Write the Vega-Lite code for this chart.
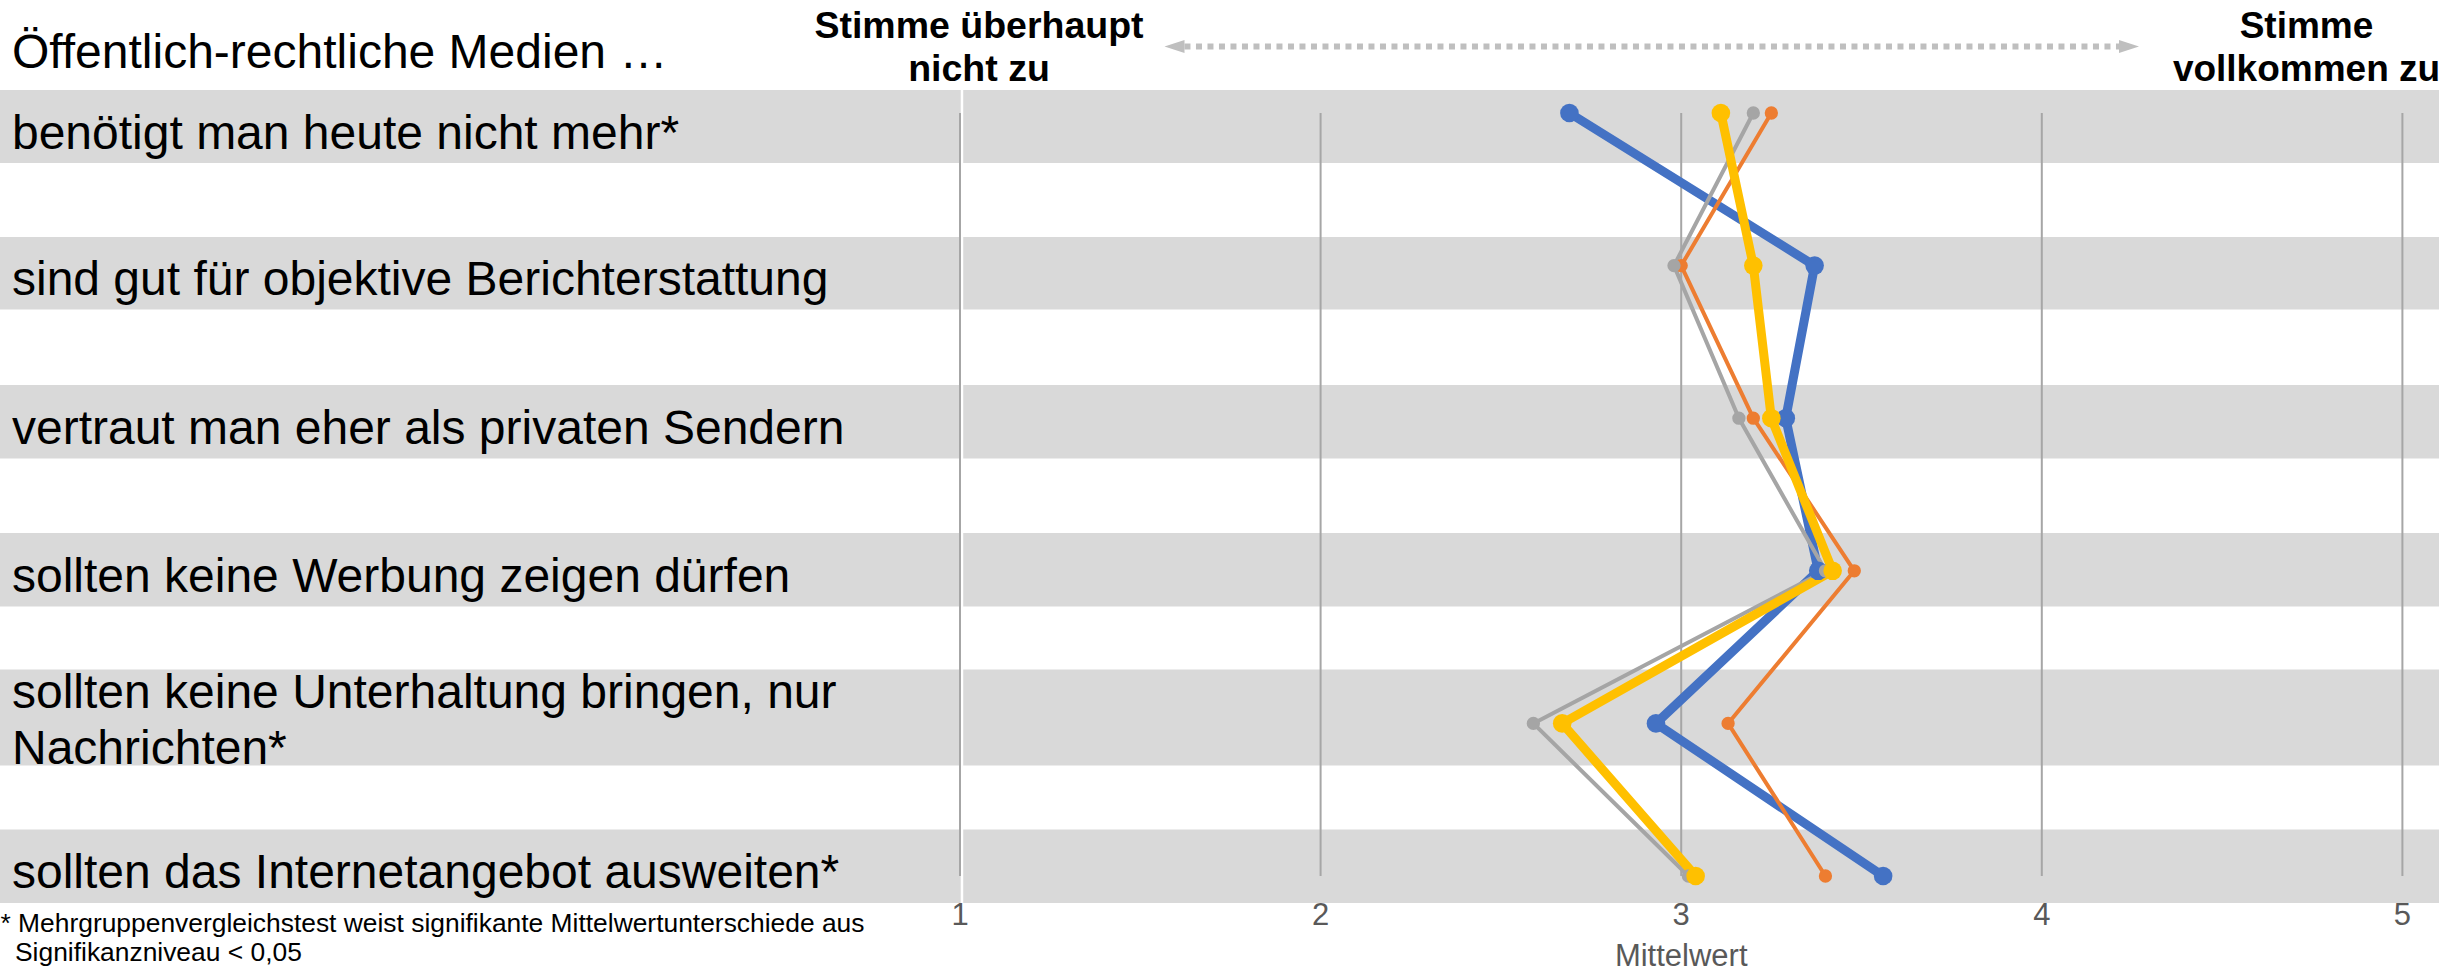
{
  "$schema": "https://vega.github.io/schema/vega-lite/v6.json",
  "width": 2463,
  "height": 903,
  "autosize": {"type": "none"},
  "padding": {"left": 0, "top": 0, "right": 0, "bottom": 69},
  "background": "white",
  "config": {"view": {"stroke": null}, "font": "Liberation Sans"},
  "datasets": {
    "items": [
      {"rank": 1, "label": "benötigt man heute nicht mehr*", "band_lo": 0.8493, "band_hi": 1.3277},
      {"rank": 2, "label": "sind gut für objektive Berichterstattung", "band_lo": 1.8126, "band_hi": 2.2877},
      {"rank": 3, "label": "vertraut man eher als privaten Sendern", "band_lo": 2.7824, "band_hi": 3.2641},
      {"rank": 4, "label": "sollten keine Werbung zeigen dürfen", "band_lo": 3.7523, "band_hi": 4.2339},
      {"rank": 5, "label": "sollten keine Unterhaltung bringen, nur\nNachrichten*", "band_lo": 4.6468, "band_hi": 5.2758},
      {"rank": 6, "label": "sollten das Internetangebot ausweiten*", "band_lo": 5.6953, "band_hi": 6.1769}
    ],
    "grid": [{"tick": 1}, {"tick": 2}, {"tick": 3}, {"tick": 4}, {"tick": 5}],
    "one": [{}],
    "series": [
      {"group": "Gruppe 1", "rank": 1, "value": 2.69},
      {"group": "Gruppe 1", "rank": 2, "value": 3.37},
      {"group": "Gruppe 1", "rank": 3, "value": 3.29},
      {"group": "Gruppe 1", "rank": 4, "value": 3.38},
      {"group": "Gruppe 1", "rank": 5, "value": 2.93},
      {"group": "Gruppe 1", "rank": 6, "value": 3.56},
      {"group": "Gruppe 2", "rank": 1, "value": 3.25},
      {"group": "Gruppe 2", "rank": 2, "value": 3.00},
      {"group": "Gruppe 2", "rank": 3, "value": 3.20},
      {"group": "Gruppe 2", "rank": 4, "value": 3.48},
      {"group": "Gruppe 2", "rank": 5, "value": 3.13},
      {"group": "Gruppe 2", "rank": 6, "value": 3.40},
      {"group": "Gruppe 3", "rank": 1, "value": 3.20},
      {"group": "Gruppe 3", "rank": 2, "value": 2.98},
      {"group": "Gruppe 3", "rank": 3, "value": 3.16},
      {"group": "Gruppe 3", "rank": 4, "value": 3.40},
      {"group": "Gruppe 3", "rank": 5, "value": 2.59},
      {"group": "Gruppe 3", "rank": 6, "value": 3.02},
      {"group": "Gruppe 4", "rank": 1, "value": 3.11},
      {"group": "Gruppe 4", "rank": 2, "value": 3.20},
      {"group": "Gruppe 4", "rank": 3, "value": 3.25},
      {"group": "Gruppe 4", "rank": 4, "value": 3.42},
      {"group": "Gruppe 4", "rank": 5, "value": 2.67},
      {"group": "Gruppe 4", "rank": 6, "value": 3.04}
    ]
  },
  "layer": [
    {
      "data": {"name": "items"},
      "mark": {"type": "rect", "color": "#D9D9D9"},
      "encoding": {
        "x": {"datum": -1.66223, "type": "quantitative",
              "scale": {"domain": [-1.66223, 5.16805], "nice": false, "zero": false}, "axis": null},
        "x2": {"datum": 5.1015},
        "y": {"field": "band_lo", "type": "quantitative",
              "scale": {"domain": [0.2595, 6.17693], "reverse": true, "nice": false, "zero": false}, "axis": null},
        "y2": {"field": "band_hi"}
      }
    },
    {
      "data": {"name": "one"},
      "mark": {"type": "rule", "color": "white", "strokeWidth": 2.5},
      "encoding": {
        "x": {"datum": 1.0055, "type": "quantitative", "axis": null},
        "y": {"datum": 0.8493, "type": "quantitative", "axis": null},
        "y2": {"datum": 6.17693}
      }
    },
    {
      "data": {"name": "grid"},
      "mark": {"type": "rule", "color": "#A6A6A6", "strokeWidth": 2},
      "encoding": {
        "x": {"field": "tick", "type": "quantitative", "axis": null},
        "y": {"datum": 1, "type": "quantitative", "axis": null},
        "y2": {"datum": 6}
      }
    },
    {
      "data": {"name": "grid"},
      "mark": {"type": "text", "align": "center", "baseline": "alphabetic", "fontSize": 31, "color": "#595959"},
      "encoding": {
        "x": {"field": "tick", "type": "quantitative", "axis": null},
        "y": {"datum": 6.3211, "type": "quantitative", "axis": null},
        "text": {"field": "tick", "type": "quantitative", "format": "d"}
      }
    },
    {
      "data": {"name": "series"},
      "mark": {"type": "line", "strokeJoin": "round", "strokeCap": "round"},
      "encoding": {
        "x": {"field": "value", "type": "quantitative", "axis": null},
        "y": {"field": "rank", "type": "quantitative", "axis": null},
        "order": {"field": "rank"},
        "color": {"field": "group", "type": "nominal",
                  "scale": {"domain": ["Gruppe 1", "Gruppe 2", "Gruppe 3", "Gruppe 4"],
                            "range": ["#4472C4", "#ED7D31", "#A5A5A5", "#FFC000"]}, "legend": null},
        "strokeWidth": {"field": "group", "type": "nominal",
                        "scale": {"type": "ordinal", "domain": ["Gruppe 1", "Gruppe 2", "Gruppe 3", "Gruppe 4"], "range": [9, 4, 4, 9]},
                        "legend": null}
      }
    },
    {
      "data": {"name": "series"},
      "mark": {"type": "circle", "opacity": 1},
      "encoding": {
        "x": {"field": "value", "type": "quantitative", "axis": null},
        "y": {"field": "rank", "type": "quantitative", "axis": null},
        "color": {"field": "group", "type": "nominal", "legend": null},
        "size": {"field": "group", "type": "nominal",
                 "scale": {"type": "ordinal", "domain": ["Gruppe 1", "Gruppe 2", "Gruppe 3", "Gruppe 4"], "range": [346, 177, 177, 346]},
                 "legend": null}
      }
    },
    {
      "data": {"name": "items"},
      "transform": [
        {"filter": "datum.rank != 5"},
        {"calculate": "(datum.band_lo + datum.band_hi) / 2", "as": "mid"}
      ],
      "mark": {"type": "text", "align": "left", "baseline": "middle", "dy": 8, "fontSize": 48, "color": "black"},
      "encoding": {
        "x": {"datum": -1.629, "type": "quantitative", "axis": null},
        "y": {"field": "mid", "type": "quantitative", "axis": null},
        "text": {"field": "label", "type": "nominal"}
      }
    },
    {
      "data": {"name": "items"},
      "transform": [
        {"filter": "datum.rank == 5"},
        {"calculate": "(datum.band_lo + datum.band_hi) / 2", "as": "mid"}
      ],
      "mark": {"type": "text", "align": "left", "baseline": "middle", "dy": -23.5, "fontSize": 48,
               "color": "black", "lineBreak": "\n", "lineHeight": 56},
      "encoding": {
        "x": {"datum": -1.629, "type": "quantitative", "axis": null},
        "y": {"field": "mid", "type": "quantitative", "axis": null},
        "text": {"field": "label", "type": "nominal"}
      }
    },
    {
      "data": {"name": "one"},
      "mark": {"type": "text", "align": "left", "baseline": "alphabetic", "fontSize": 48, "color": "black"},
      "encoding": {
        "x": {"datum": -1.629, "type": "quantitative", "axis": null},
        "y": {"datum": 0.7051, "type": "quantitative", "axis": null},
        "text": {"value": "Öffentlich-rechtliche Medien …"}
      }
    },
    {
      "data": {"name": "one"},
      "mark": {"type": "text", "align": "center", "baseline": "alphabetic", "fontSize": 37.5,
               "fontWeight": "bold", "color": "black", "lineHeight": 43},
      "encoding": {
        "x": {"datum": 1.0527, "type": "quantitative", "axis": null},
        "y": {"datum": 0.50852, "type": "quantitative", "axis": null},
        "text": {"value": ["Stimme überhaupt", "nicht zu"]}
      }
    },
    {
      "data": {"name": "one"},
      "mark": {"type": "text", "align": "center", "baseline": "alphabetic", "fontSize": 37,
               "fontWeight": "bold", "color": "black", "lineHeight": 43},
      "encoding": {
        "x": {"datum": 4.7341, "type": "quantitative", "axis": null},
        "y": {"datum": 0.50852, "type": "quantitative", "axis": null},
        "text": {"value": ["Stimme", "vollkommen zu"]}
      }
    },
    {
      "data": {"name": "one"},
      "mark": {"type": "rule", "color": "#BFBFBF", "strokeWidth": 6, "strokeDash": [6, 5.5]},
      "encoding": {
        "x": {"datum": 1.6225, "type": "quantitative", "axis": null},
        "x2": {"datum": 4.2141},
        "y": {"datum": 0.5642, "type": "quantitative", "axis": null}
      }
    },
    {
      "data": {"name": "one"},
      "mark": {"type": "point", "shape": "M -1 0 L 1 -0.65 L 1 0.65 Z", "filled": true, "opacity": 1,
               "color": "#BFBFBF", "size": 400, "strokeWidth": 0},
      "encoding": {
        "x": {"datum": 1.5948, "type": "quantitative", "axis": null},
        "y": {"datum": 0.5642, "type": "quantitative", "axis": null}
      }
    },
    {
      "data": {"name": "one"},
      "mark": {"type": "point", "shape": "M 1 0 L -1 -0.65 L -1 0.65 Z", "filled": true, "opacity": 1,
               "color": "#BFBFBF", "size": 400, "strokeWidth": 0},
      "encoding": {
        "x": {"datum": 4.2418, "type": "quantitative", "axis": null},
        "y": {"datum": 0.5642, "type": "quantitative", "axis": null}
      }
    },
    {
      "data": {"name": "one"},
      "mark": {"type": "text", "align": "left", "baseline": "alphabetic", "fontSize": 26.4, "color": "black"},
      "encoding": {
        "x": {"datum": -1.66084, "type": "quantitative", "axis": null},
        "y": {"datum": 6.367, "type": "quantitative", "axis": null},
        "text": {"value": "* Mehrgruppenvergleichstest weist signifikante Mittelwertunterschiede aus"}
      }
    },
    {
      "data": {"name": "one"},
      "mark": {"type": "text", "align": "left", "baseline": "alphabetic", "fontSize": 26.4, "color": "black"},
      "encoding": {
        "x": {"datum": -1.6206, "type": "quantitative", "axis": null},
        "y": {"datum": 6.557, "type": "quantitative", "axis": null},
        "text": {"value": "Signifikanzniveau < 0,05"}
      }
    },
    {
      "data": {"name": "one"},
      "mark": {"type": "text", "align": "center", "baseline": "alphabetic", "fontSize": 31, "color": "#595959"},
      "encoding": {
        "x": {"datum": 3, "type": "quantitative", "axis": null},
        "y": {"datum": 6.5898, "type": "quantitative", "axis": null},
        "text": {"value": "Mittelwert"}
      }
    }
  ]
}
